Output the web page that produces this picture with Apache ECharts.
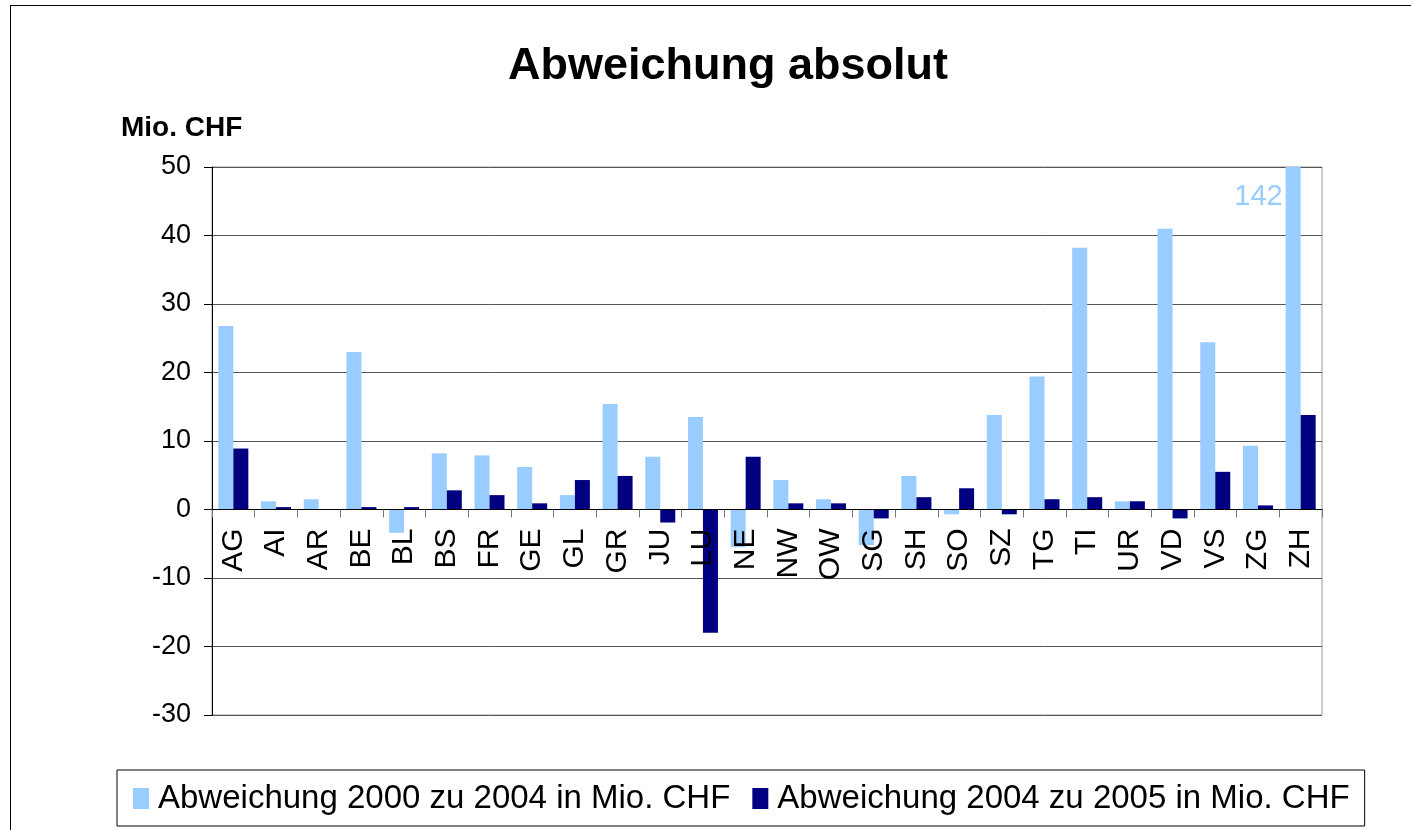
<!DOCTYPE html>
<html>
<head>
<meta charset="utf-8">
<script src="https://cdn.jsdelivr.net/npm/echarts@6/dist/echarts.min.js"></script>
<style>
	html, body { margin: 0; padding: 0; background: #fff; }
	#main { width: 1411px; height: 830px; }
	#frame { position: absolute; left: 10px; top: 5px; width: 1500px; height: 900px; border: 1px solid #000; pointer-events: none; }
</style>
</head>
<body>
<div id="main"></div>
<div id="frame"></div>
<script>
	// Kantone
	var categories = ['AG', 'AI', 'AR', 'BE', 'BL', 'BS', 'FR', 'GE', 'GL', 'GR', 'JU', 'LU', 'NE',
		'NW', 'OW', 'SG', 'SH', 'SO', 'SZ', 'TG', 'TI', 'UR', 'VD', 'VS', 'ZG', 'ZH']
	// Abweichung 2000 zu 2004 (Mio. CHF)
	var dev2000to2004 = [26.8, 1.2, 1.5, 23.0, -3.4, 8.2, 7.9, 6.2, 2.1, 15.4, 7.7, 13.5, -5.5,
		4.3, 1.5, -5.2, 4.9, -0.7, 13.8, 19.4, 38.2, 1.2, 41.0, 24.4, 9.3, 142]
	// Abweichung 2004 zu 2005 (Mio. CHF)
	var dev2004to2005 = [8.9, 0.35, 0, 0.35, 0.35, 2.8, 2.1, 0.9, 4.3, 4.9, -1.9, -18.0, 7.7,
		0.9, 0.9, -1.3, 1.8, 3.1, -0.7, 1.5, 1.8, 1.2, -1.3, 5.5, 0.6, 13.8]
	var seriesNames = ['Abweichung 2000 zu 2004 in Mio. CHF', 'Abweichung 2004 zu 2005 in Mio. CHF']
	var yMin = -30
	var yMax = 50
	var yStep = 10

	var fontFam = '"Liberation Sans", Arial, sans-serif'
	var gridTop = 167
	var gridBottom = 115
	var plotHeight = 830 - gridTop - gridBottom
	// Kategorieachse auf die Nulllinie schieben
	var zeroOffset = -(0 - yMin) / (yMax - yMin) * plotHeight

	// ZH ist abgeschnitten, Wert als Label zeigen
	var lightData = dev2000to2004.map(function (v) {
		if (v > yMax) {
			return {
				value: v,
				label: {
					show: true,
					position: [-3, 30],
					align: 'right',
					verticalAlign: 'middle',
					formatter: '{c}',
					color: '#99CCFF',
					fontSize: 29,
					fontFamily: fontFam
				}
			}
		}
		return v
	})

	var dom = echarts.init(document.getElementById('main'))
	var option = {
		backgroundColor: '#fff',
		animation: false,
		title: [{
			text: 'Abweichung absolut',
			left: 503,
			top: 39,
			textStyle: { fontSize: 45, fontWeight: 'bold', color: '#000', fontFamily: fontFam }
		}, {
			text: 'Mio. CHF',
			left: 116,
			top: 109,
			textStyle: { fontSize: 28, fontWeight: 'bold', color: '#000', fontFamily: fontFam }
		}],
		legend: {
			left: 117,
			top: 770,
			padding: [12, 15, 11, 16],
			borderColor: '#000',
			borderWidth: 1,
			icon: 'rect',
			itemWidth: 16,
			itemHeight: 21,
			itemGap: 22,
			textStyle: { fontSize: 33, color: '#000', fontFamily: fontFam, padding: [0, 0, 0, 4] },
			data: seriesNames
		},
		grid: {
			left: 212,
			right: 89,
			top: gridTop,
			bottom: gridBottom,
			show: true,
			borderColor: '#999',
			borderWidth: 1,
			containLabel: false
		},
		xAxis: {
			type: 'category',
			data: categories,
			offset: zeroOffset,
			z: 5,
			axisLine: { onZero: false, lineStyle: { color: '#000', width: 1 } },
			axisTick: { show: true, length: 8, lineStyle: { color: '#777' } },
			axisLabel: {
				rotate: 90,
				fontSize: 30,
				color: '#000',
				margin: 19,
				fontFamily: fontFam
			},
			splitLine: { show: false }
		},
		yAxis: {
			type: 'value',
			min: yMin,
			max: yMax,
			interval: yStep,
			axisLine: { show: true, lineStyle: { color: '#000' } },
			axisTick: { show: true, length: 8, lineStyle: { color: '#000' } },
			axisLabel: { fontSize: 27, color: '#000', margin: 21, fontFamily: fontFam },
			splitLine: { show: true, lineStyle: { color: '#555', width: 1 } }
		},
		series: [{
			name: seriesNames[0],
			type: 'bar',
			data: lightData,
			barWidth: 15,
			barGap: '0%',
			clip: true,
			itemStyle: { color: '#99CCFF' }
		}, {
			name: seriesNames[1],
			type: 'bar',
			data: dev2004to2005,
			barWidth: 15,
			barGap: '0%',
			clip: true,
			itemStyle: { color: '#000080' }
		}]
	}
	dom.setOption(option)
</script>
</body>
</html>
